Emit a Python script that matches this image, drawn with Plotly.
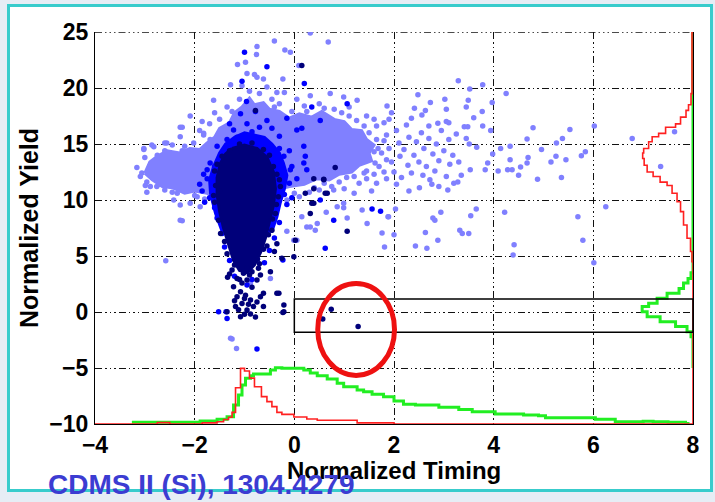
import plotly.graph_objects as go

# ---------------------------------------------------------------------------
# Event populations in the (normalized timing, normalized yield) plane
# ---------------------------------------------------------------------------

# Outline of the dense part of the surface-event population (light blue)
SURFACE_CORE_X = [-3.0, -2.9, -2.75, -2.55, -2.3, -2.1, -1.9, -1.75, -1.6, -1.5,
                  -1.3, -1.2, -1.05, -0.9, -0.8, -0.62, -0.5, -0.3, -0.1, 0.1,
                  0.35, 0.55, 0.8, 1.0, 1.15, 1.35, 1.45, 1.6, 1.5, 1.55,
                  1.3, 1.15, 0.9, 0.7, 0.45, 0.2, -0.1, -0.6, -1.2, -1.55,
                  -1.75, -2.0, -2.2, -2.45, -2.65, -2.85]
SURFACE_CORE_Y = [12.4, 13.4, 13.9, 14.4, 14.2, 14.6, 14.5, 15.1, 15.6, 16.4,
                  16.9, 17.8, 18.3, 19.1, 18.5, 18.7, 18.1, 17.9, 17.3, 17.7,
                  17.4, 17.9, 17.2, 17.0, 16.3, 16.2, 15.4, 14.9, 14.2, 13.5,
                  13.1, 12.5, 12.3, 11.8, 11.9, 11.4, 11.2, 10.6, 10.2, 10.2,
                  10.6, 10.8, 10.6, 11.1, 11.2, 11.8]

# Individual surface events outside the dense core
SURFACE_PTS = [
    (3.29, 20.65), (3.78, 20.3), (3.52, 19.9), (4.25, 19.5), (2.48, 19.4), (2.73, 18.7),
    (3.02, 19.0), (3.49, 18.9), (3.97, 18.7), (3.45, 18.3), (3.05, 18.1), (2.41, 18.2),
    (2.63, 18.0), (3.77, 17.9), (3.6, 17.35), (2.56, 17.6), (3.05, 17.0), (3.41, 16.55),
    (3.48, 16.55), (3.78, 16.6), (3.94, 16.2), (2.88, 16.85), (4.79, 16.45), (5.53, 16.3),
    (6.02, 16.6), (4.67, 15.45), (5.38, 15.5), (5.26, 15.1), (3.45, 15.5), (3.51, 15.0),
    (3.66, 14.7), (4.14, 14.6), (4.33, 14.8), (4.96, 14.5), (5.25, 13.9), (5.45, 13.6),
    (5.76, 13.95), (5.84, 14.3), (5.15, 13.4), (4.69, 13.8), (4.67, 13.3), (4.33, 13.6),
    (3.98, 14.1), (3.88, 13.3), (4.54, 12.95), (4.28, 12.7), (4.37, 12.7), (4.09, 12.6),
    (4.5, 12.2), (4.88, 11.85), (5.36, 12.0), (3.83, 12.7), (3.53, 12.7), (3.28, 11.6),
    (3.08, 10.9), (2.76, 11.4), (2.51, 11.1), (6.25, 9.4), (5.69, 8.5), (5.79, 6.4),
    (6.01, 4.4), (4.22, 8.9), (3.65, 9.2), (3.54, 8.6), (2.94, 8.9), (2.78, 8.4),
    (2.82, 8.2), (3.32, 7.3), (3.37, 7.0), (3.5, 7.0), (2.63, 7.1), (2.88, 6.4),
    (2.43, 5.9), (2.66, 5.7), (4.41, 6.0), (4.39, 5.1), (2.03, 9.2), (1.88, 8.5),
    (2.0, 6.9), (1.81, 5.8), (1.76, 7.05), (6.78, 15.5), (7.35, 13.0), (7.63, 16.1),
    (1.36, 9.1), (1.46, 7.9), (1.89, 8.5),
    (1.8, 16.9), (1.85, 15.8), (1.9, 14.6), (1.95, 13.4), (2.0, 12.5), (2.05, 16.2),
    (2.1, 15.1), (2.12, 13.9), (2.15, 12.0), (2.2, 14.5), (2.25, 16.7), (2.28, 13.1),
    (2.3, 15.6), (2.35, 12.4), (2.4, 14.0), (2.45, 15.2), (2.5, 13.4), (2.55, 16.0),
    (2.58, 12.2), (2.6, 14.6), (2.65, 13.0), (2.7, 15.5), (2.72, 11.8), (2.78, 14.1),
    (2.82, 12.6), (2.85, 15.0), (2.9, 13.5), (2.95, 16.2), (3.0, 14.4), (3.05, 12.1),
    (3.1, 15.4), (3.12, 13.2), (3.18, 14.0), (3.2, 11.5), (3.25, 15.9), (2.35, 17.3),
    (1.95, 17.8), (2.7, 16.6), (3.1, 16.9), (2.05, 11.4), (2.3, 10.8), (1.85, 11.9),
    (2.9, 11.2), (3.3, 13.4), (3.35, 12.2),
    (0.32, 19.3), (0.72, 19.5), (0.99, 19.2), (1.26, 18.9), (1.86, 18.4), (0.5, 18.6),
    (1.1, 18.3), (1.45, 17.5), (1.6, 17.2), (1.9, 17.2), (1.65, 16.6), (0.05, 19.0),
    (-0.2, 19.6), (1.8, 15.3), (1.75, 14.2), (1.7, 13.0), (1.6, 12.3), (1.45, 11.9),
    (1.3, 11.5), (1.55, 10.8), (1.2, 10.6), (1.0, 11.0), (0.75, 11.2), (0.5, 10.9),
    (0.3, 10.7), (0.1, 10.3), (1.65, 11.5), (1.8, 12.5), (1.85, 13.6),
    (-1.62, 18.9), (-1.35, 18.3), (-2.09, 17.5), (-2.25, 16.5), (-2.6, 15.1), (-2.02, 15.1),
    (-2.29, 15.65), (-1.82, 15.95), (-2.82, 14.75), (-3.02, 14.5), (-3.16, 12.9), (-3.09, 12.1),
    (-2.96, 11.6), (-2.76, 11.2), (-2.42, 10.0), (-2.25, 8.15), (-1.89, 9.4), (-1.28, 20.3),
    (-0.4, 24.2), (-0.75, 23.7), (-0.19, 23.4), (-0.08, 23.2), (-0.76, 23.0), (-0.98, 22.3),
    (-1.14, 22.1), (-0.95, 21.3), (-0.8, 21.2), (-0.75, 20.95), (-0.62, 20.8), (-0.23, 20.8),
    (0.09, 22.0), (0.32, 24.9), (0.68, 24.1),
    (-3.06, 12.4), (-2.99, 11.3), (-2.89, 11.2), (-2.96, 10.7), (-2.29, 16.5), (-2.29, 8.2),
    (-3.02, 14.6), (-2.86, 14.9), (-2.56, 15.1), (-2.25, 14.4), (-1.82, 15.8), (-1.69, 15.4),
    (-2.09, 9.7), (-2.29, 9.55), (-2.45, 10.7), (-1.95, 10.3),
    (-3.0, 13.8), (-2.9, 13.0), (-2.85, 12.0), (-2.7, 11.4), (-2.6, 14.4), (-2.45, 14.9),
    (-2.2, 14.8), (-2.0, 10.4), (-1.8, 10.1), (-1.7, 14.9), (-2.35, 10.6), (-2.6, 10.9),
    (-2.75, 14.0),
    (-1.5, 17.2), (-1.45, 16.3), (-1.25, 17.9), (-1.1, 19.0), (-0.9, 19.7), (-0.7, 19.5),
    (-0.45, 19.0), (-0.3, 18.6), (-1.6, 17.8), (-1.05, 20.2), (-0.55, 20.1), (-0.35, 19.6),
    (-1.7, 16.8), (-1.9, 16.2), (-1.85, 17.0),
    (-1.25, -2.4), (-1.16, -3.25), (-1.28, -2.35), (-0.48, 3.0), (-0.88, 2.6), (-2.58, 4.58),
    (-0.15, 7.2), (0.05, 6.4), (0.32, 7.6), (0.46, 7.9), (0.15, 8.5), (0.64, 8.9),
    (0.99, 9.3), (0.79, 10.9), (0.86, 9.4), (0.99, 9.7), (1.06, 8.4), (-0.01, 6.4),
    (0.25, 7.6), (0.42, 7.3),
    (0.0, 10.6), (-0.15, 10.0), (0.4, 11.1), (0.9, 11.6), (1.2, 12.1), (1.45, 12.6),
    (1.6, 14.3), (1.65, 15.4), (1.4, 16.6), (1.1, 17.5), (0.8, 18.1), (0.2, 18.4),
    (-0.4, 18.3), (1.25, 17.1), (0.95, 17.8), (0.6, 18.2), (1.5, 16.0), (1.68, 14.6),
    (1.62, 13.3), (1.4, 12.4), (1.05, 12.0), (0.6, 11.5), (-0.05, 17.9), (0.25, 17.9),
]

# Intermediate population (blue): dense halo outline and single events
HALO_CORE_X = [-1.68, -1.7, -1.62, -1.5, -1.38, -1.2, -1.0, -0.8, -0.6, -0.45,
               -0.3, -0.22, -0.15, -0.2, -0.28, -0.35, -0.45, -1.45, -1.58]
HALO_CORE_Y = [10.5, 11.8, 13.0, 14.2, 15.0, 15.6, 16.0, 15.8, 15.6, 15.0,
               14.2, 13.3, 12.2, 11.0, 9.8, 8.5, 7.2, 7.2, 8.8]

HALO_PTS = [
    (-1.0, 23.2), (-0.55, 21.9), (0.2, 20.4), (-1.05, 20.6), (-0.96, 18.8), (0.35, 18.3),
    (-0.78, 17.9), (-1.08, 17.7), (-0.95, 16.8), (-0.55, 17.1), (-0.15, 17.3), (0.05, 16.25),
    (-1.22, 16.25), (-1.35, 15.4), (-1.55, 14.8), (-1.69, 13.3), (-1.75, 12.7), (0.19, 14.8),
    (0.25, 12.7), (-0.08, 12.7), (-0.21, 13.9), (1.06, 18.6), (0.52, 17.1), (0.15, 16.4),
    (0.22, 13.9), (0.19, 13.3), (0.52, 10.0), (0.62, 5.7), (1.56, 9.2), (1.73, 9.0),
    (-0.75, -3.3), (-1.35, -0.57), (-1.52, 0.03), (-1.37, 0.03), (-0.23, 4.64), (0.79, 8.2),
    (-1.65, 11.5), (-1.7, 10.2), (-1.6, 9.3), (-1.55, 8.4), (-1.45, 7.0), (-1.4, 5.8),
    (-1.3, 4.6), (-0.35, 9.2), (-0.3, 8.0), (-0.4, 6.6), (-0.5, 5.5), (-0.6, 4.4),
    (-0.2, 10.5), (-0.1, 11.5), (-0.25, 12.3), (-0.05, 13.0), (-0.3, 14.6), (-0.6, 15.3),
    (-1.45, 14.2), (-1.6, 13.0), (-1.75, 11.9), (-1.85, 10.8), (-1.8, 9.8), (-0.15, 9.6),
    (-0.45, 16.4), (-0.85, 16.1), (-1.15, 15.6), (-1.2, 3.2), (-0.95, 2.4), (-1.05, 4.4),
    (-0.85, 2.9), (-1.3, 16.8), (-0.7, 16.5), (-0.3, 15.7), (-0.1, 14.4), (0.05, 11.9),
    (-0.05, 10.2), (-1.82, 12.3), (-1.9, 11.4),
]

# Bulk (nuclear-recoil-like) population (dark blue): core outline and single events
BULK_CORE_X = [-1.25, -1.0, -0.75, -0.55, -0.42, -0.38, -0.42, -0.5, -0.58, -0.68,
               -0.8, -0.95, -1.1, -1.22, -1.32, -1.42, -1.5, -1.55, -1.55, -1.48,
               -1.38]
BULK_CORE_Y = [14.6, 14.9, 14.6, 13.8, 12.5, 11.0, 9.5, 8.0, 6.6, 5.3,
               4.2, 3.5, 3.7, 4.6, 6.0, 7.5, 9.0, 10.5, 12.0, 13.3,
               14.1]

BULK_PTS = [
    (-1.34, 3.1), (-1.22, 2.26), (-1.08, 1.8), (-0.98, 1.5), (-1.15, 1.37), (-0.88, 1.07),
    (-1.05, 0.77), (-1.18, 0.48), (-0.95, 0.18), (-1.08, -0.42), (-0.88, -0.18), (-0.82, 0.48),
    (-0.62, 0.48), (-0.68, 1.37), (-0.75, 2.86), (-0.68, 3.3), (-0.48, 3.6), (-0.31, 1.67),
    (-0.23, -0.05), (-0.95, 2.86), (-1.02, 3.45), (-1.25, 3.75), (-0.25, 4.8), (-0.35, 6.1),
    (0.02, 6.4), (-0.01, 4.94), (0.39, 11.9), (0.59, 11.85), (0.32, 8.8), (1.06, 7.2),
    (-0.21, 0.03), (-0.21, 0.62), (-0.35, 1.67), (-0.62, 1.67), (-0.4, 5.4), (-1.35, 0.03),
    (0.74, 0.24), (0.57, -0.63), (1.28, -1.3), (0.15, 22.0), (0.82, 12.9), (0.62, 10.6),
    (0.39, 9.7), (0.59, 11.8), (0.22, 10.6), (0.35, 9.7), (0.66, 10.6), (0.39, 11.0),
    (-1.45, 13.9), (-1.58, 11.3), (-1.6, 9.8), (-1.52, 8.2), (-0.3, 11.8), (-0.32, 10.3),
    (-0.38, 8.8), (-0.45, 7.3), (-0.55, 5.9), (-0.7, 4.3), (-0.78, 18.0),
    (-1.15, 3.0), (-0.9, 3.3), (-1.05, 2.6), (-0.85, 2.2), (-1.2, 1.0), (-0.75, 0.9),
    (-1.0, -0.2), (-1.12, 0.2), (-0.92, 0.7), (-0.78, -0.45), (-1.0, 1.2), (-1.1, 2.9),
    (-0.95, 3.9), (-1.3, 3.4), (-0.72, 3.9),
    (-1.6, 12.6), (-1.55, 13.2), (-1.5, 10.8), (-1.62, 10.4), (-1.48, 7.0), (-1.4, 6.3),
    (-1.35, 5.2), (-1.2, 4.2), (-0.42, 13.0), (-0.35, 12.3), (-0.28, 11.2), (-0.36, 9.6),
    (-0.44, 8.3), (-0.52, 6.9), (-0.62, 5.6), (-0.74, 4.7), (-0.85, 3.6), (-1.3, 14.4),
    (-1.1, 15.0), (-0.85, 15.1), (-0.62, 14.5), (-0.5, 14.0),
]

# ---------------------------------------------------------------------------
# Projected histograms (step outlines drawn in data units of the main axes)
# ---------------------------------------------------------------------------

# Timing distributions along the bottom (bin left edge, level)
TIMING_RED_X = [-4.0, -2.75, -2.5, -1.85, -1.55, -1.42, -1.32, -1.25, -1.18, -1.08,
                -1.0, -0.9, -0.8, -0.66, -0.55, -0.45, -0.35, -0.25, -0.01, 0.25,
                0.46, 1.26, 2.0, 8.0]
TIMING_RED_Y = [-10.0, -9.88, -10.0, -9.9, -9.8, -9.6, -9.4, -8.96, -6.76, -5.03,
                -5.27, -5.9, -6.67, -7.56, -8.0, -8.45, -8.96, -9.14, -9.38, -9.55,
                -9.67, -9.9, -10.0, -10.0]

TIMING_GREEN_X = [-3.26, -1.89, -1.55, -1.35, -1.22, -1.12, -1.05, -0.98, -0.88, -0.82,
                  -0.48, -0.38, -0.25, 0.19, 0.32, 0.46, 0.66, 0.86, 0.99, 1.26,
                  1.39, 1.56, 1.79, 2.0, 2.19, 2.43, 2.9, 3.3, 3.57, 4.03,
                  4.6, 4.9, 5.04, 6.04, 6.44, 7.0, 7.2, 7.5, 7.85, 7.9]
TIMING_GREEN_Y = [-9.85, -9.73, -9.58, -9.36, -8.3, -7.41, -6.52, -5.92, -5.7, -5.54,
                  -5.18, -4.97, -5.03, -5.18, -5.45, -5.7, -5.98, -6.37, -6.67, -6.96,
                  -7.11, -7.35, -7.56, -7.95, -8.24, -8.3, -8.5, -8.7, -8.9, -9.1,
                  -9.2, -9.26, -9.44, -9.58, -9.8, -9.75, -9.8, -9.85, -9.95, -10.0]

# Yield distributions along the right edge (bin lower edge, level)
YIELD_RED_Y = [-10.0, 4.5, 5.4, 6.58, 7.77, 8.96, 9.85, 10.6, 11.3, 11.6,
               12.1, 12.5, 13.1, 13.7, 14.2, 14.6, 15.2, 15.65, 15.95, 16.5,
               16.8, 17.4, 18.0, 18.5, 19.5, 25.0]
YIELD_RED_X = [8.0, 7.98, 7.95, 7.88, 7.81, 7.75, 7.68, 7.58, 7.48, 7.34,
               7.2, 7.08, 7.02, 6.99, 7.01, 7.11, 7.18, 7.31, 7.45, 7.65,
               7.75, 7.86, 7.91, 7.96, 7.98, 8.0]

YIELD_GREEN_Y = [-5.0, -2.2, -1.76, -1.3, -0.87, -0.42, 0.03, 0.48, 0.78, 1.22,
                 1.67, 2.1, 2.6, 3.0, 3.5, 25.0]
YIELD_GREEN_X = [8.0, 7.96, 7.88, 7.65, 7.34, 7.08, 6.98, 7.11, 7.28, 7.48,
                 7.72, 7.81, 7.9, 7.96, 8.0, 8.0]

# Signal region and highlighted candidate events
SIGNAL_BOX_X = [0.0, 8.0]
SIGNAL_BOX_Y = [-1.8, 1.15]
CANDIDATE_CENTER = (1.24, -1.56)
CANDIDATE_RADII = (0.77, 4.1)

X_TICKS = [-4, -2, 0, 2, 4, 6, 8]
Y_TICKS = [-10, -5, 0, 5, 10, 15, 20, 25]

LIGHT = "#8080ff"
MID = "#0000ff"
DARK = "#00007a"
FONT = "Liberation Sans, Arial, Helvetica, sans-serif"

fig = go.Figure()


def polygon(xs, ys, color):
    fig.add_trace(go.Scatter(
        x=xs + xs[:1], y=ys + ys[:1], mode="lines", fill="toself",
        fillcolor=color, line=dict(color=color, width=3),
        hoverinfo="skip", showlegend=False))


def dots(pts, color, size=5.5):
    fig.add_trace(go.Scatter(
        x=[p[0] for p in pts], y=[p[1] for p in pts], mode="markers",
        marker=dict(color=color, size=size, line=dict(width=0)),
        hoverinfo="skip", showlegend=False))


polygon(SURFACE_CORE_X, SURFACE_CORE_Y, LIGHT)
dots(SURFACE_PTS, LIGHT)
polygon(HALO_CORE_X, HALO_CORE_Y, MID)
dots(HALO_PTS, MID)
polygon(BULK_CORE_X, BULK_CORE_Y, DARK)
dots(BULK_PTS, DARK)

# Histogram outlines
fig.add_trace(go.Scatter(x=TIMING_GREEN_X, y=TIMING_GREEN_Y, mode="lines",
                         line=dict(color="#22ee22", width=3, shape="hv"),
                         hoverinfo="skip", showlegend=False))
fig.add_trace(go.Scatter(x=TIMING_RED_X, y=TIMING_RED_Y, mode="lines",
                         line=dict(color="#ff2020", width=1.6, shape="hv"),
                         hoverinfo="skip", showlegend=False))
fig.add_trace(go.Scatter(x=YIELD_GREEN_X, y=YIELD_GREEN_Y, mode="lines",
                         line=dict(color="#22ee22", width=3, shape="vh"),
                         hoverinfo="skip", showlegend=False))
fig.add_trace(go.Scatter(x=YIELD_RED_X, y=YIELD_RED_Y, mode="lines",
                         line=dict(color="#ff2020", width=1.6, shape="vh"),
                         hoverinfo="skip", showlegend=False))

# Outer slide-style frame (white panel with cyan border), in paper units
W, H = 715, 502
ML, MR, MT, MB = 95, 22, 32, 78
PW, PH = W - ML - MR, H - MT - MB


def px_to_paper_x(px):
    return (px - ML) / PW


def px_to_paper_y(py):
    return (H - MB - py) / PH


fig.add_shape(type="rect", xref="paper", yref="paper", layer="below",
              x0=px_to_paper_x(8.5), x1=px_to_paper_x(711.5),
              y0=px_to_paper_y(490.5), y1=px_to_paper_y(5.5),
              fillcolor="white", line=dict(color="#38cccc", width=3))

grid_dash = "7px,3px,1.5px,3px,1.5px,3px,1.5px,3px"

# Top border of the axes box, drawn in the same dash-dot style as the grid
fig.add_shape(type="line", xref="x", yref="y", layer="below",
              x0=X_TICKS[0], x1=X_TICKS[-1], y0=Y_TICKS[-1], y1=Y_TICKS[-1],
              line=dict(color="#111111", width=1.4, dash=grid_dash))

# Signal box and candidate ellipse
fig.add_shape(type="rect", xref="x", yref="y", layer="above",
              x0=SIGNAL_BOX_X[0], x1=SIGNAL_BOX_X[1],
              y0=SIGNAL_BOX_Y[0], y1=SIGNAL_BOX_Y[1],
              line=dict(color="black", width=1.5))
cx, cy = CANDIDATE_CENTER
rx, ry = CANDIDATE_RADII
fig.add_shape(type="circle", xref="x", yref="y", layer="above",
              x0=cx - rx, x1=cx + rx, y0=cy - ry, y1=cy + ry,
              line=dict(color="#ee1111", width=5))


def tick_text(v):
    s = str(v).replace("-", "\u2212")
    return "<b>" + s + "</b>"


axis_common = dict(
    showgrid=True, gridcolor="#111111", gridwidth=1.3, griddash=grid_dash,
    zeroline=False, showline=True, linecolor="black", linewidth=1.3,
    ticks="", tickfont=dict(family=FONT, size=23, color="black"),
)

fig.update_xaxes(range=[-4, 8], tickvals=X_TICKS, ticktext=[tick_text(v) for v in X_TICKS],
                 ticklabelstandoff=0, **axis_common)
fig.update_yaxes(range=[-10, 25], tickvals=Y_TICKS, ticktext=[tick_text(v) for v in Y_TICKS],
                 mirror=True, ticklabelstandoff=1, **axis_common)

fig.add_annotation(text="<b>Normalized Timing</b>", xref="paper", yref="paper",
                   x=0.5, y=px_to_paper_y(470), xanchor="center", yanchor="middle",
                   showarrow=False,
                   font=dict(family=FONT, size=24, color="black"))
fig.add_annotation(text="<b>Normalized Yield</b>", xref="paper", yref="paper",
                   x=px_to_paper_x(29), y=0.5, xanchor="center", yanchor="middle",
                   textangle=-90, showarrow=False,
                   font=dict(family=FONT, size=25, color="black"))
fig.add_annotation(text="<b>CDMS II (Si), 1304.4279</b>", xref="paper", yref="paper",
                   x=px_to_paper_x(46), y=px_to_paper_y(485), xanchor="left",
                   yanchor="middle", showarrow=False,
                   font=dict(family=FONT, size=28, color="#3c3cd2"))

fig.update_layout(
    width=W, height=H, autosize=False,
    margin=dict(l=ML, r=MR, t=MT, b=MB, pad=0),
    paper_bgcolor="#e6edf5", plot_bgcolor="rgba(0,0,0,0)",
    showlegend=False,
)

fig.write_html("out.html")
